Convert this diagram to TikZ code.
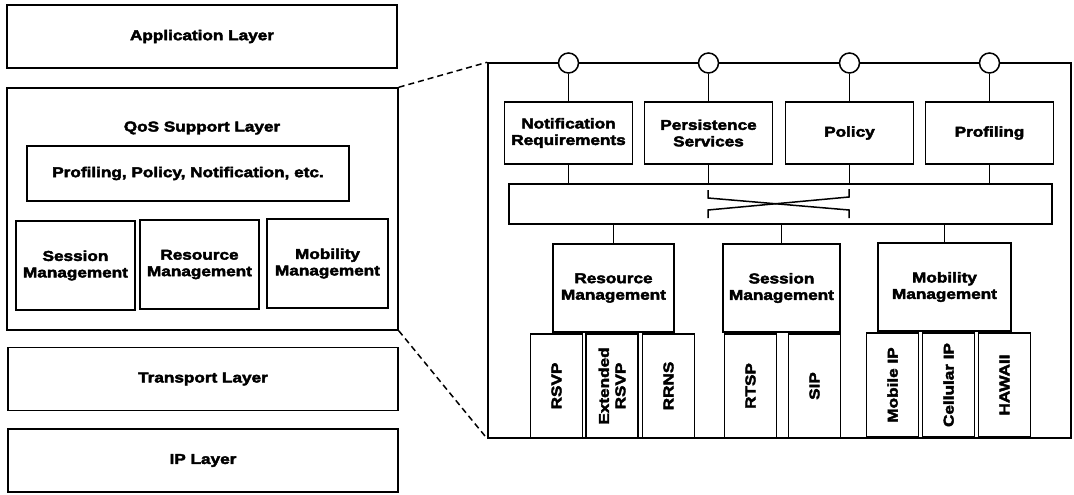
\documentclass[tikz,border=0pt]{standalone}
\usepackage{fontspec}
\setmainfont{Liberation Sans}[FakeStretch=1.2,BoldFeatures={FakeBold=3}]
\tikzset{
  txt/.style={align=center, font=\fontsize{14.3}{16.5}\selectfont\bfseries},
  blk/.style={txt, draw, line width=1.5pt},
  lyr/.style={blk, minimum width=390pt, minimum height=63pt},
  svc/.style={blk, minimum width=128pt, minimum height=62pt},
  mgr/.style={blk, minimum height=88pt},
  sub/.style={blk, rotate=90, minimum width=104pt, minimum height=52pt},
  plug/.style={draw, line width=1.5pt, circle, fill=white, minimum size=20pt, inner sep=0pt},
  wire/.style={line width=1.5pt}
}
\begin{document}
\begin{tikzpicture}[x=1pt,y=-1pt]
\useasboundingbox (0,0) rectangle (1074,495);
% protocol stack
\node[lyr] (app) at (202,36.5) {Application Layer};
\node[blk, minimum width=391pt, minimum height=242pt] (qos) at (202.5,209) {};
\node[txt] (qosT) at (202,128) {QoS Support Layer};
\node[blk, minimum width=322pt, minimum height=55pt] (ppn) at (188,173.5) {Profiling, Policy, Notification, etc.};
\node[blk, minimum width=119pt, minimum height=89pt] (ses) at (75.5,265.5) {Session\\Management};
\node[blk, minimum width=119pt, minimum height=89pt] (res) at (199.5,264.5) {Resource\\Management};
\node[blk, minimum width=121pt, minimum height=89pt] (mob) at (327.5,263.5) {Mobility\\Management};
\node[lyr] (tra) at (203,379) {Transport Layer};
\node[lyr] (ip) at (203,460.5) {IP Layer};
% detail of the QoS layer
\node[blk, minimum width=583pt, minimum height=375pt] (det) at (779.5,250.5) {};
\draw[wire, dash pattern=on 6pt off 4pt] (qos.north east) -- (det.north west);
\draw[wire, dash pattern=on 6pt off 4pt] (qos.south east) -- (det.south west);
\node[plug] (p1) at (568.5,63) {};
\node[plug] (p2) at (708.5,63) {};
\node[plug] (p3) at (849.5,63) {};
\node[plug] (p4) at (989.5,63) {};
\node[svc] (notif) at (568.5,133) {Notification\\Requirements};
\node[svc] (pers) at (708.5,133) {Persistence\\Services};
\node[svc] (pol) at (849.5,133) {Policy};
\node[svc] (prof) at (989.5,133) {Profiling};
\node[blk, minimum width=543pt, minimum height=40pt] (bus) at (780.5,204) {};
\foreach \s/\p in {notif/p1, pers/p2, pol/p3, prof/p4} {
  \draw[wire] (\p) -- (\s);
  \draw[wire] (\s.south) -- (\s.south |- bus.north);
}
\draw[wire] (708,190) -- (708,198) -- (849,210) -- (849,218);
\draw[wire] (849,189) -- (849,197) -- (708,210) -- (708,218);
\node[mgr, minimum width=121pt] (rm) at (613.5,288) {Resource\\Management};
\node[mgr, minimum width=117pt] (sm) at (781.5,288) {Session\\Management};
\node[mgr, minimum width=133pt] (mm) at (944.5,287) {Mobility\\Management};
\foreach \m in {rm, sm, mm}
  \draw[wire] (\m.north |- bus.south) -- (\m.north);
\node[sub] (rsvp) at (556.5,386) {RSVP};
\node[sub] (ersvp) at (612,386) {Extended\\RSVP};
\node[sub] (rrns) at (668.5,386) {RRNS};
\node[sub] (rtsp) at (750.5,386) {RTSP};
\node[sub] (sip) at (814.5,386) {SIP};
\node[sub] (mip) at (892.5,385) {Mobile IP};
\node[sub] (cip) at (948.5,385) {Cellular IP};
\node[sub] (haw) at (1004.5,385) {HAWAII};
\end{tikzpicture}
\end{document}
